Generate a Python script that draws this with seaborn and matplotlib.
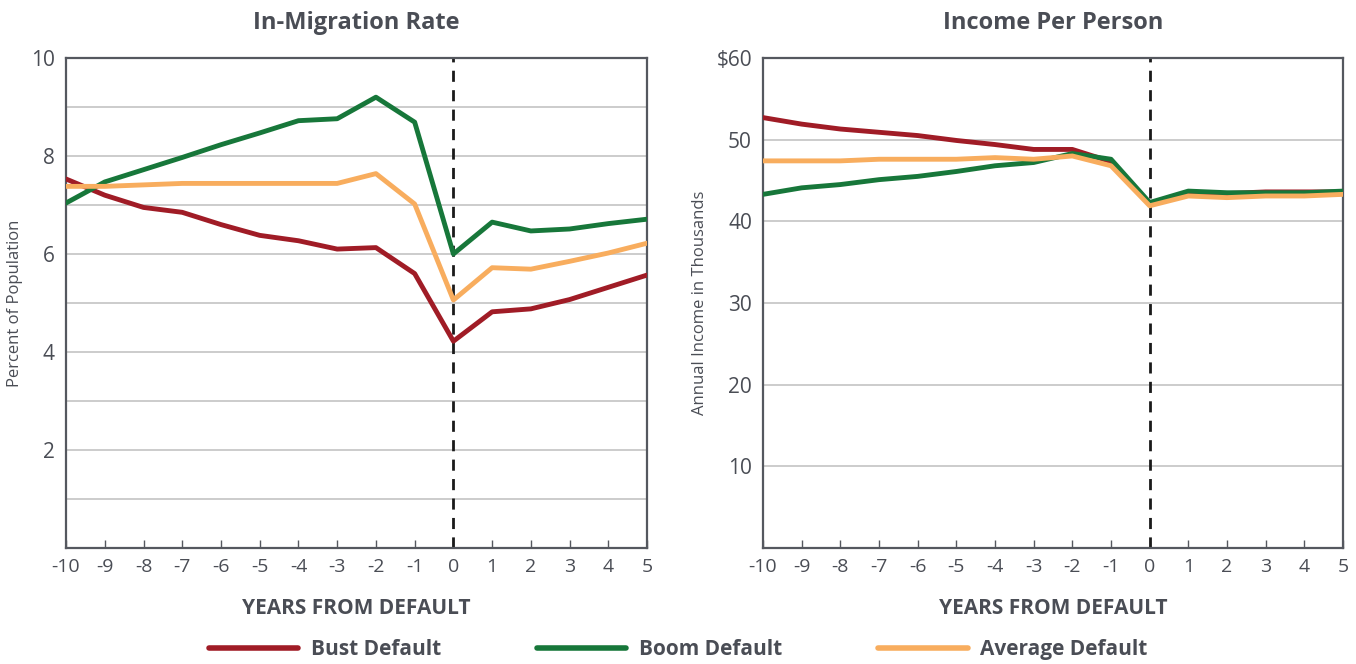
import numpy as np
import pandas as pd
import seaborn as sns
import matplotlib.pyplot as plt
from matplotlib.lines import Line2D

# %% Data
years = list(range(-10, 6))
series_names = ["Bust Default", "Boom Default", "Average Default"]

migration_bust = [7.53, 7.20, 6.95, 6.85, 6.60, 6.38, 6.27, 6.10, 6.13, 5.60,
                  4.22, 4.82, 4.88, 5.07, 5.32, 5.57]
migration_boom = [7.04, 7.47, 7.72, 7.97, 8.23, 8.47, 8.72, 8.76, 9.20, 8.69,
                  6.00, 6.65, 6.47, 6.51, 6.62, 6.71]
migration_avg = [7.38, 7.38, 7.41, 7.44, 7.44, 7.44, 7.44, 7.44, 7.64, 7.02,
                 5.06, 5.72, 5.69, 5.85, 6.02, 6.22]

income_bust = [52.7, 51.9, 51.3, 50.9, 50.5, 49.9, 49.4, 48.8, 48.8, 47.3,
               42.2, 43.5, 43.4, 43.6, 43.6, 43.6]
income_boom = [43.3, 44.1, 44.5, 45.1, 45.5, 46.1, 46.8, 47.2, 48.3, 47.6,
               42.3, 43.7, 43.5, 43.5, 43.5, 43.7]
income_avg = [47.4, 47.4, 47.4, 47.6, 47.6, 47.6, 47.8, 47.6, 48.0, 46.8,
              41.9, 43.1, 42.9, 43.1, 43.1, 43.3]

colors = {"Bust Default": "#a01c26", "Boom Default": "#17773a",
          "Average Default": "#f8ad5e"}


def long_frame(bust, boom, avg):
    parts = []
    for name, vals in zip(series_names, [bust, boom, avg]):
        parts.append(pd.DataFrame({"year": years, "value": vals, "series": name}))
    return pd.concat(parts, ignore_index=True)


df_mig = long_frame(migration_bust, migration_boom, migration_avg)
df_inc = long_frame(income_bust, income_boom, income_avg)

# %% Style
sns.set_style("white")
plt.rcParams['font.family'] = ['Open Sans', 'DejaVu Sans']
text_col = "#4a4d55"
spine_col = "#55585f"
grid_col = "#c4c4c4"

fig = plt.figure(figsize=(13.56, 6.64), dpi=100)
ax1 = fig.add_axes([0.0487, 0.1747, 0.4285, 0.738])
ax2 = fig.add_axes([0.5627, 0.1747, 0.4277, 0.738])


def style_axis(ax, ymax, grid_step, label_ticks, label_fmt, ylabel, title):
    for y in np.arange(grid_step, ymax, grid_step):
        ax.axhline(y, color=grid_col, lw=1.2, zorder=0)
    ax.axvline(0, color="#1a1a1a", lw=2, ls=(0, (4, 3)), zorder=1)
    ax.set_xlim(-10, 5)
    ax.set_ylim(0, ymax)
    ax.set_xticks(years)
    ax.set_xticklabels([str(y) for y in years], fontsize=14, color=text_col)
    ax.set_yticks(label_ticks)
    ax.set_yticklabels([label_fmt(v) for v in label_ticks], fontsize=15,
                       color=text_col)
    ax.tick_params(axis="x", direction="in", length=6, width=1,
                   color=spine_col, pad=7, bottom=True)
    ax.tick_params(axis="y", length=0, pad=8)
    for s in ax.spines.values():
        s.set_color(spine_col)
        s.set_linewidth(1.6)
    ax.set_xlabel("YEARS FROM DEFAULT", fontsize=15, fontweight="bold",
                  color=text_col, labelpad=16)
    ax.set_ylabel(ylabel, fontsize=12, color=text_col, labelpad=6)
    ax.set_title(title, fontsize=17, fontweight="bold", color=text_col, pad=21)


sns.lineplot(data=df_mig, x="year", y="value", hue="series", palette=colors,
             linewidth=3.5, ax=ax1, legend=False, zorder=3)
style_axis(ax1, 10, 1, [2, 4, 6, 8, 10], lambda v: f"{v:g}",
           "Percent of Population", "In-Migration Rate")

sns.lineplot(data=df_inc, x="year", y="value", hue="series", palette=colors,
             linewidth=3.5, ax=ax2, legend=False, zorder=3)
style_axis(ax2, 60, 10, [10, 20, 30, 40, 50, 60],
           lambda v: f"${v:g}" if v == 60 else f"{v:g}",
           "Annual Income in Thousands", "Income Per Person")

handles = [Line2D([], [], color=colors[n], lw=4) for n in series_names]
fig.legend(handles, series_names, loc="lower center", ncol=3,
           bbox_to_anchor=(0.5, -0.022), frameon=False, handlelength=4.3,
           columnspacing=4.6, handletextpad=0.6,
           prop={"size": 15, "weight": "bold"}, labelcolor=text_col)

fig.savefig("out.png", dpi=100)
